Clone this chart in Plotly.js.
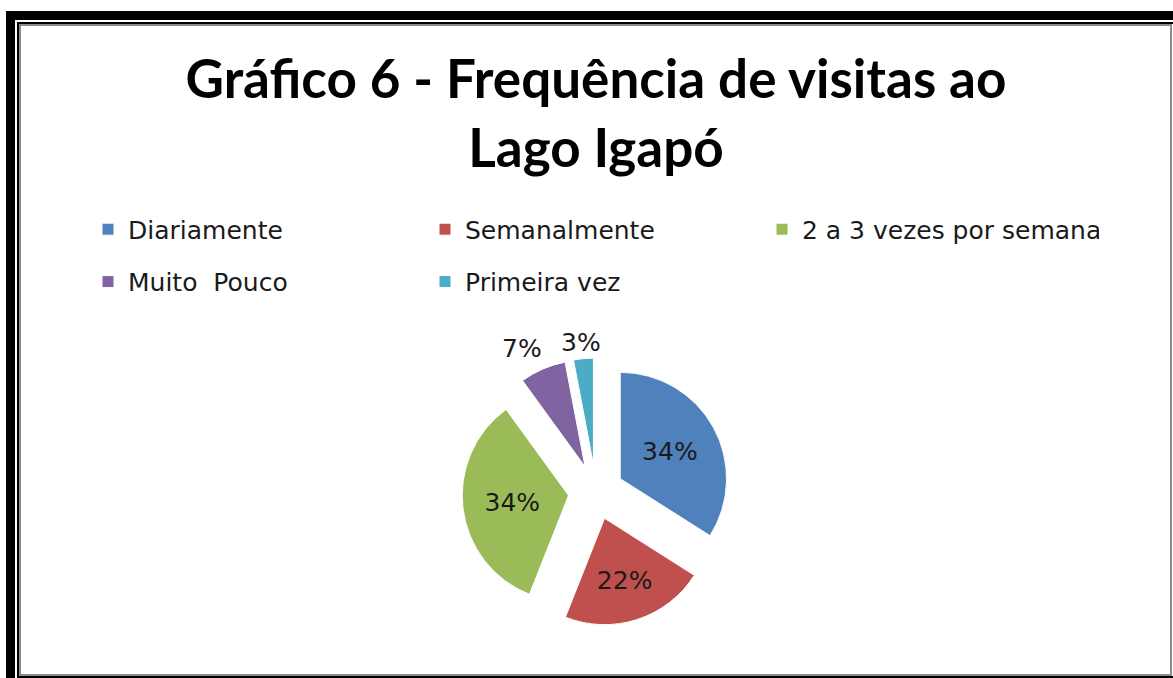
<!DOCTYPE html>
<html>
<head>
<meta charset="utf-8">
<script src="https://cdn.plot.ly/plotly-3.0.1.min.js"></script>
<style>
html,body{margin:0;padding:0;background:#fff;}
#chart{width:1173px;height:678px;}
</style>
</head>
<body>
<div id="chart"></div>
<script>
const categories = ["Diariamente", "Semanalmente", "2 a 3 vezes por semana", "Muito  Pouco", "Primeira vez"];
const percentValues = [34, 22, 34, 7, 3];
const sliceColors = ["#4F81BD", "#C0504D", "#9BBB59", "#8064A2", "#4BACC6"];
const titleText = "Gráfico 6 - Frequência de visitas ao<br>Lago Igapó";
const insideLabel = [true, true, true, false, false];

const W = 1173, H = 678;
const px = v => v / W;
const py = v => 1 - v / H;

// pie geometry (pixels)
const CX = 596, CY = 492, HALF = 134, PULL = 0.26;
const R = HALF / (1 + PULL);

const total = percentValues.reduce((a, b) => a + b, 0);
const labelFont = {family: "'DejaVu Sans', sans-serif", size: 25, color: "#1a1a1a"};

// labels of the small slices are placed just outside their pulled slice
const annotations = [];
let cum = 0;
percentValues.forEach((v, i) => {
  const mid = (cum + v / 2) / total * 2 * Math.PI;
  cum += v;
  if (insideLabel[i]) return;
  const dist = R * (1 + PULL) + 22;
  annotations.push({
    xref: "paper", yref: "paper",
    x: px(CX + dist * Math.sin(mid) - (i === 3 ? 12 : 0)),
    y: py(CY - dist * Math.cos(mid) + (i === 4 ? 6 : 0)),
    xanchor: "center", yanchor: "middle",
    text: Math.round(v / total * 100) + "%",
    showarrow: false,
    font: labelFont
  });
});

const trace = {
  type: "pie",
  labels: categories.map(c => '<span style="font-size:25px;baseline-shift:5px">' + c + '</span>'),
  values: percentValues,
  sort: false,
  direction: "clockwise",
  rotation: 0,
  pull: percentValues.map(() => PULL),
  marker: {colors: sliceColors, line: {color: "#ffffff", width: 1}},
  texttemplate: insideLabel.map(b => b ? "%{percent:.0%}" : ""),
  textposition: "inside",
  insidetextorientation: "horizontal",
  textfont: labelFont,
  domain: {x: [px(CX - HALF), px(CX + HALF)], y: [py(CY + HALF), py(CY - HALF)]},
  hoverinfo: "label+percent"
};

const frame = [
  {type: "rect", x0: px(6), x1: px(15), y0: py(678), y1: py(11), fillcolor: "#000", line: {width: 0}},
  {type: "rect", x0: px(6), x1: px(1173), y0: py(20), y1: py(11), fillcolor: "#000", line: {width: 0}},
  {type: "rect", x0: px(17), x1: px(19), y0: py(678), y1: py(22), fillcolor: "#000", line: {width: 0}},
  {type: "rect", x0: px(17), x1: px(1173), y0: py(24), y1: py(22), fillcolor: "#000", line: {width: 0}},
  {type: "rect", x0: px(19), x1: px(21), y0: py(676), y1: py(24), fillcolor: "#8c8c8c", line: {width: 0}},
  {type: "rect", x0: px(19), x1: px(1172), y0: py(26), y1: py(24), fillcolor: "#8c8c8c", line: {width: 0}},
  {type: "rect", x0: px(1170), x1: px(1172), y0: py(676), y1: py(24), fillcolor: "#8c8c8c", line: {width: 0}},
  {type: "rect", x0: px(19), x1: px(1172), y0: py(676), y1: py(674), fillcolor: "#8c8c8c", line: {width: 0}},
  {type: "rect", x0: px(17), x1: px(1173), y0: py(678), y1: py(676), fillcolor: "#000", line: {width: 0}}
];

const layout = {
  width: W, height: H,
  margin: {l: 0, r: 0, t: 0, b: 0},
  paper_bgcolor: "#ffffff",
  title: {
    text: titleText,
    font: {family: "Lato, sans-serif", size: 53, color: "#000", weight: "bold"},
    x: px(596), xanchor: "center",
    y: py(98), yanchor: "top",
    xref: "paper", yref: "paper"
  },
  showlegend: true,
  legend: {
    orientation: "h",
    x: px(88), xanchor: "left",
    y: py(198), yanchor: "top",
    entrywidth: 292,
    entrywidthmode: "pixels",
    font: {family: "'DejaVu Sans', sans-serif", size: 38, color: "#1a1a1a"},
    bgcolor: "rgba(0,0,0,0)"
  },
  annotations: annotations,
  shapes: frame
};

Plotly.newPlot("chart", [trace], layout, {displayModeBar: false, staticPlot: true});
</script>
</body>
</html>
